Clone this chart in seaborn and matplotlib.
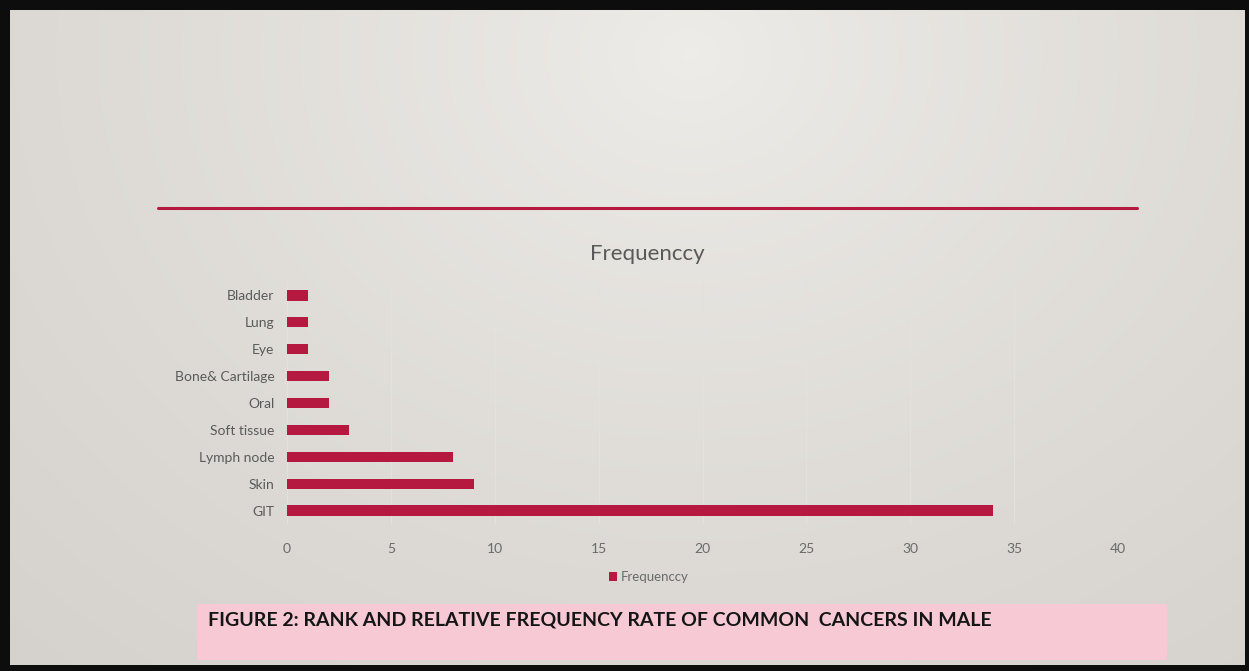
import numpy as np
import pandas as pd
import matplotlib
matplotlib.use("Agg")
import matplotlib.pyplot as plt
from matplotlib.patches import Rectangle
from matplotlib.lines import Line2D
import seaborn as sns

# Cancer sites and case counts
sites = ["Bladder", "Lung", "Eye", "Bone& Cartilage", "Oral",
         "Soft tissue", "Lymph node", "Skin", "GIT"]
counts = [1, 1, 1, 2, 2, 3, 8, 9, 34]
x_ticks = [0, 5, 10, 15, 20, 25, 30, 35, 40]
series_name = "Frequenccy"
caption = "FIGURE 2: RANK AND RELATIVE FREQUENCY RATE OF COMMON  CANCERS IN MALE"

df = pd.DataFrame({"site": sites, "count": counts})

sns.set_theme(style="white")
plt.rcParams["font.family"] = ["Lato", "DejaVu Sans"]

W, H = 1249, 671
fig = plt.figure(figsize=(W / 100, H / 100), dpi=100)
fig.patch.set_facecolor("#0d0d0d")

# Slide background with a soft light area near the top centre
bg = fig.add_axes([10 / W, 1 - 665 / H, (1245 - 10) / W, (665 - 10) / H])
yy, xx = np.mgrid[0:300, 0:600]
d = np.sqrt(((xx - 330) / 620.0) ** 2 + ((yy - 20) / 480.0) ** 2)
d = np.clip(d, 0, 1) ** 0.8
light = np.array([0.935, 0.928, 0.912])
dark = np.array([0.815, 0.800, 0.780])
img = light[None, None, :] * (1 - d[..., None]) + dark[None, None, :] * d[..., None]
bg.imshow(img, aspect="auto", extent=[0, 1, 0, 1], origin="upper")
bg.set_xlim(0, 1)
bg.set_ylim(0, 1)
bg.axis("off")

accent = "#b5193f"

# Horizontal rule under the slide title area
fig.add_artist(Line2D([158 / W, 1137 / W], [1 - 208 / H, 1 - 208 / H],
                      color=accent, lw=2.2, transform=fig.transFigure))

# Caption band
fig.add_artist(Rectangle((197 / W, 1 - 660 / H), (1167 - 197) / W, (660 - 604) / H,
                         transform=fig.transFigure, facecolor="#f6c9d4",
                         edgecolor="none"))
fig.text(208 / W, 1 - 620 / H, caption, fontsize=14, fontweight="bold",
         color="#151515", va="center", ha="left")

# Bar chart
ax = fig.add_axes([287 / W, 1 - 524 / H, (1118 - 287) / W, (524 - 282) / H])
ax.patch.set_alpha(0)
sns.barplot(data=df, x="count", y="site", orient="h", color=accent,
            width=0.38, saturation=1, linewidth=0, edgecolor="none",
            ax=ax, zorder=3)
ax.set_xlim(0, 40)
ax.set_xticks(x_ticks)
ax.set_xticklabels([str(t) for t in x_ticks])
ax.set_xlabel("")
ax.set_ylabel("")
for s in ax.spines.values():
    s.set_visible(False)
ax.xaxis.grid(True, color="#e4e1dd", lw=0.8, zorder=0)
ax.yaxis.grid(False)
ax.tick_params(axis="x", length=0, pad=14, labelsize=10, labelcolor="#6a6a6a")
ax.tick_params(axis="y", length=0, pad=9, labelsize=10, labelcolor="#5a5a5a")

fig.text(647 / W, 1 - 254 / H, series_name, fontsize=16, color="#595959",
         ha="center", va="center")

handle = Rectangle((0, 0), 1, 1, facecolor=accent, edgecolor="none")
ax.legend([handle], [series_name], loc="center", bbox_to_anchor=(0.435, -0.22),
          frameon=False, fontsize=9.5, handlelength=0.6, handleheight=0.6,
          handletextpad=0.3, labelcolor="#6a6a6a")

fig.savefig("out.png", dpi=100, facecolor=fig.get_facecolor())
